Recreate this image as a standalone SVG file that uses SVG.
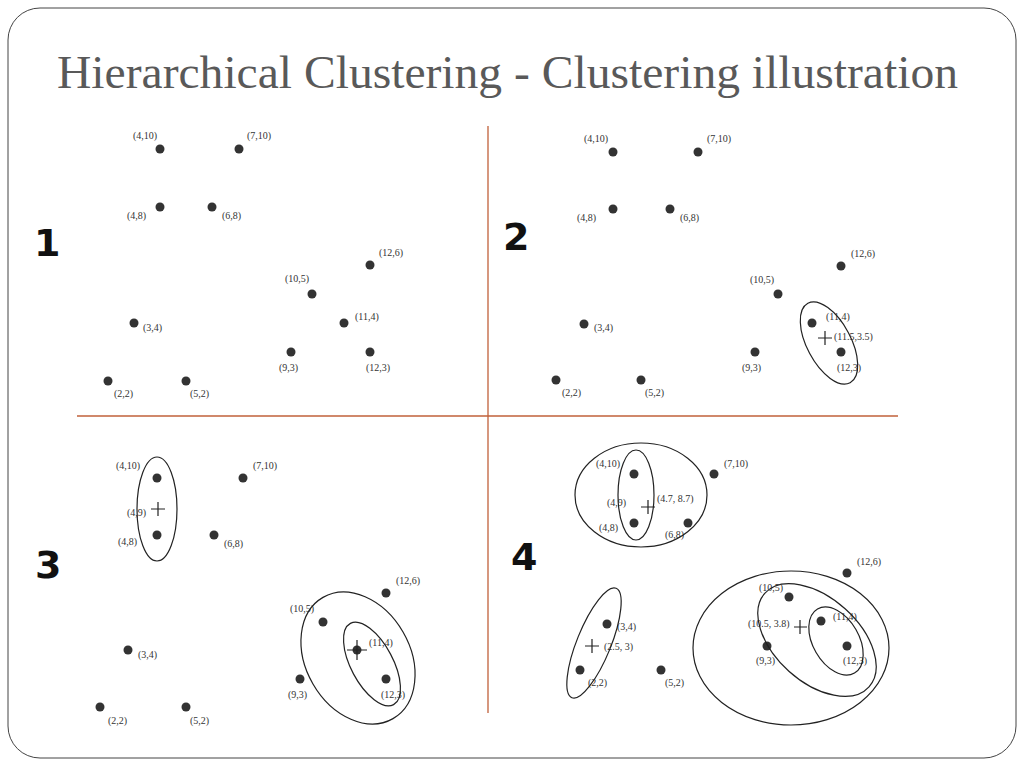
<svg xmlns="http://www.w3.org/2000/svg" width="1024" height="768" viewBox="0 0 1024 768">
<style>
.p{fill:#333}
.l{font-family:"Liberation Serif",serif;font-size:10px;fill:#333}
.e{fill:none;stroke:#222;stroke-width:1.2}
.n{font-family:"DejaVu Sans",sans-serif;font-size:38px;font-weight:bold;fill:#111}
.ax{stroke:#c0603a;stroke-width:1.3}
.c{stroke:#222;stroke-width:1.2}
</style>
<defs><circle id="d" r="4.5" class="p"/></defs>
<rect x="8" y="8" width="1008" height="750" rx="32" fill="#fff" stroke="#444" stroke-width="1"/>
<text x="57" y="88" textLength="901" lengthAdjust="spacingAndGlyphs" font-family="Liberation Serif,serif" font-size="46" fill="#595959">Hierarchical Clustering - Clustering illustration</text>
<g id="axes"><line class="ax" x1="488" y1="126" x2="488" y2="713"/><line class="ax" x1="77" y1="416" x2="898" y2="416"/></g>
<text class="n" x="34" y="256">1</text><text class="n" x="503" y="250">2</text><text class="n" x="35" y="578">3</text><text class="n" x="511" y="570">4</text>
<g id="panel1">
<use href="#d" x="160" y="149"/><use href="#d" x="239" y="149"/><use href="#d" x="160" y="207"/><use href="#d" x="212" y="207"/>
<use href="#d" x="370" y="265"/><use href="#d" x="312" y="294"/><use href="#d" x="344" y="323"/><use href="#d" x="291" y="352"/><use href="#d" x="370" y="352"/>
<use href="#d" x="134" y="323"/><use href="#d" x="108" y="381"/><use href="#d" x="186" y="381"/>
<text class="l" x="133" y="139">(4,10)</text><text class="l" x="247" y="139">(7,10)</text><text class="l" x="127" y="219">(4,8)</text><text class="l" x="222" y="219">(6,8)</text>
<text class="l" x="379" y="256">(12,6)</text><text class="l" x="285" y="282">(10,5)</text><text class="l" x="355" y="320">(11,4)</text><text class="l" x="279" y="371">(9,3)</text><text class="l" x="366" y="371">(12,3)</text>
<text class="l" x="143" y="331">(3,4)</text><text class="l" x="114" y="397">(2,2)</text><text class="l" x="190" y="397">(5,2)</text>
</g>
<g id="panel2">
<use href="#d" x="613" y="152"/><use href="#d" x="698" y="152"/><use href="#d" x="613" y="209"/><use href="#d" x="670" y="209"/>
<use href="#d" x="841" y="266"/><use href="#d" x="778" y="294"/><use href="#d" x="812" y="323"/><use href="#d" x="755" y="352"/><use href="#d" x="841" y="352"/>
<use href="#d" x="584" y="324"/><use href="#d" x="556" y="380"/><use href="#d" x="641" y="380"/>
<text class="l" x="584" y="142">(4,10)</text><text class="l" x="707" y="142">(7,10)</text><text class="l" x="577" y="221">(4,8)</text><text class="l" x="680" y="221">(6,8)</text>
<text class="l" x="851" y="257">(12,6)</text><text class="l" x="750" y="283">(10,5)</text><text class="l" x="826" y="320">(11,4)</text><text class="l" x="742" y="371">(9,3)</text><text class="l" x="837" y="371">(12,3)</text>
<text class="l" x="834" y="340">(11.5,3.5)</text>
<text class="l" x="594" y="331">(3,4)</text><text class="l" x="562" y="396">(2,2)</text><text class="l" x="645" y="396">(5,2)</text>
<ellipse class="e" cx="829" cy="343" rx="22" ry="45" transform="rotate(-28 829 343)"/>
<path class="c" d="M818 338h14M825 331v14"/>
</g>
<g id="panel3">
<use href="#d" x="157" y="478"/><use href="#d" x="243" y="478"/><use href="#d" x="157" y="535"/><use href="#d" x="214" y="535"/>
<use href="#d" x="386" y="593"/><use href="#d" x="323" y="622"/><use href="#d" x="357" y="650"/><use href="#d" x="300" y="679"/><use href="#d" x="386" y="679"/>
<use href="#d" x="128" y="650"/><use href="#d" x="100" y="707"/><use href="#d" x="186" y="707"/>
<text class="l" x="116" y="469">(4,10)</text><text class="l" x="253" y="469">(7,10)</text><text class="l" x="127" y="516">(4,9)</text><text class="l" x="118" y="545">(4,8)</text><text class="l" x="224" y="547">(6,8)</text>
<text class="l" x="396" y="584">(12,6)</text><text class="l" x="290" y="612">(10,5)</text><text class="l" x="369" y="646">(11,4)</text><text class="l" x="288" y="698">(9,3)</text><text class="l" x="381" y="698">(12,3)</text>
<text class="l" x="138" y="658">(3,4)</text><text class="l" x="108" y="724">(2,2)</text><text class="l" x="190" y="724">(5,2)</text>
<ellipse class="e" cx="157" cy="509" rx="20" ry="52"/>
<path class="c" d="M151 509h14M158 502v14"/>
<ellipse class="e" cx="358" cy="658" rx="52" ry="70" transform="rotate(-30 358 658)"/>
<ellipse class="e" cx="372" cy="664" rx="21" ry="46" transform="rotate(-28 372 664)"/>
<path class="c" d="M347 650h20M357 640v20"/>
</g>
<g id="panel4">
<use href="#d" x="634" y="474"/><use href="#d" x="714" y="474"/><use href="#d" x="634" y="523"/><use href="#d" x="688" y="523"/>
<use href="#d" x="847" y="573"/><use href="#d" x="789" y="597"/><use href="#d" x="821" y="621"/><use href="#d" x="767" y="646"/><use href="#d" x="847" y="646"/>
<use href="#d" x="607" y="624"/><use href="#d" x="580" y="670"/><use href="#d" x="661" y="670"/>
<text class="l" x="596" y="467">(4,10)</text><text class="l" x="724" y="467">(7,10)</text><text class="l" x="607" y="506">(4,9)</text><text class="l" x="657" y="502">(4.7, 8.7)</text><text class="l" x="599" y="531">(4,8)</text><text class="l" x="665" y="538">(6,8)</text>
<text class="l" x="857" y="565">(12,6)</text><text class="l" x="759" y="591">(10,5)</text><text class="l" x="833" y="620">(11,4)</text><text class="l" x="748" y="627">(10.5, 3.8)</text><text class="l" x="756" y="664">(9,3)</text><text class="l" x="843" y="664">(12,3)</text>
<text class="l" x="617" y="630">(3,4)</text><text class="l" x="604" y="650">(2.5, 3)</text><text class="l" x="588" y="686">(2,2)</text><text class="l" x="665" y="686">(5,2)</text>
<ellipse class="e" cx="636" cy="495" rx="18" ry="45"/>
<ellipse class="e" cx="641" cy="495" rx="66" ry="52"/>
<path class="c" d="M641 507h14M648 500v14"/>
<ellipse class="e" cx="594" cy="643" rx="17" ry="59" transform="rotate(22 594 643)"/>
<path class="c" d="M585 646h14M592 639v14"/>
<ellipse class="e" cx="791" cy="648" rx="98" ry="77"/>
<ellipse class="e" cx="817" cy="640" rx="42" ry="70" transform="rotate(-48 817 640)"/>
<ellipse class="e" cx="836" cy="641" rx="23" ry="37" transform="rotate(-30 836 641)"/>
<path class="c" d="M794 627h13M800 620v14"/>
</g>
</svg>
